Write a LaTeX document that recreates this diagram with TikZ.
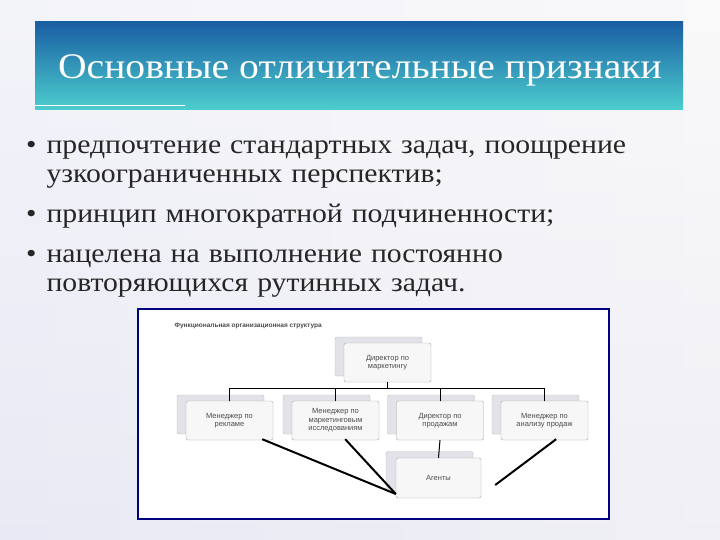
\documentclass[tikz,border=0pt]{standalone}
\usepackage{fontspec}
\setmainfont{Liberation Serif}[FakeStretch=1.1]
\newfontfamily\sansf{Liberation Sans}
\begin{document}
\begin{tikzpicture}[x=1pt,y=-1pt,
  bx/.style={draw=gray!70,fill=gray!6,rounded corners=2pt,minimum width=87pt,minimum height=39pt,align=center,font=\sansf\fontsize{7.5}{8.5}\selectfont,text=gray!60!black},
  bk/.style={draw=gray!50,fill=blue!12!gray!20,rounded corners=2pt,minimum width=87pt,minimum height=39pt},
  ln/.style={black,line width=1pt},
  th/.style={black,line width=2pt}]
\useasboundingbox (0,0) rectangle (720,540);
\shade[top color=blue!8!gray!10,bottom color=blue!20!gray!25] (0,0) rectangle (720,540);
\shade[left color=blue!4!white,right color=white,opacity=0.6] (0,0) rectangle (720,540);
\shade[top color=cyan!50!blue!60!black!90,bottom color=cyan!45!teal!70!white] (35,22) rectangle (683,110);
\node[text=white,font=\fontsize{36}{38}\selectfont] (title) at (360,70) {Основные отличительные признаки};
\draw[white,line width=0.8pt] (35,105) coordinate (l1) -- (185,105) coordinate (l2);
\node[anchor=north west,align=left,text width=680pt,font=\fontsize{27}{29}\selectfont,text=black!85] (bul) at (15,121)
{\begin{list}{\textbullet}{\leftmargin=28pt\labelsep=10pt\itemsep=11pt\parsep=0pt\topsep=0pt}\raggedright
\item предпочтение стандартных задач, поощрение\\ узкоограниченных перспектив;
\item принцип многократной подчиненности;
\item нацелена на выполнение постоянно\\ повторяющихся рутинных задач.
\end{list}};
\draw[blue!50!black,line width=2.5pt,fill=white] (138,309) rectangle (609,519);
\node[anchor=west,font=\sansf\bfseries\fontsize{6.5}{7}\selectfont,text=gray!60!black] (cap) at (171,326) {Функциональная организационная структура};
\node[bk] (tb) at (378.5,356.5) {};
\node[bx] (t) at (387.5,362.5) {Директор по\\маркетингу};
\foreach \n/\x/\tx in {a/229.5/{Менеджер по\\рекламе},b/335.5/{Менеджер по\\маркетинговым\\исследованиям},c/440/{Директор по\\продажам},d/544.5/{Менеджер по\\анализу продаж}}{
  \node[bk] (\n b) at (\x-9,414.5) {};
  \node[bx] (\n) at (\x,420.5) {\tx};
}
\node[bk] (gb) at (429.5,471) {};
\node[bx,minimum width=85pt,minimum height=40pt] (g) at (438.5,478) {Агенты};
\draw[ln] (t.south) -- ++(0,6) coordinate (h);
\draw[ln] (a.north) |- (h) -| (d.north);
\draw[ln] (b.north) -- ++(0,-13);
\draw[ln] (c.north) -- ++(0,-13);
\draw[ln] (c.south) -- (g.north);
\draw[th] ([xshift=-11pt,yshift=1pt]a.south east) -- ([yshift=-16pt]g.west);
\draw[th] ([xshift=-34pt,yshift=1pt]b.south east) -- ([yshift=-16pt]g.west);
\draw[th] ([xshift=-32pt,yshift=1pt]d.south east) -- ([xshift=14pt,yshift=-7pt]g.east);
\end{tikzpicture}
\end{document}
